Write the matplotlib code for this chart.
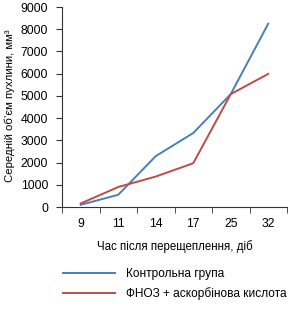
import matplotlib
matplotlib.use("Agg")
import matplotlib.pyplot as plt
import numpy as np

plt.rcParams['font.family'] = ['Liberation Sans', 'DejaVu Sans']

categories = ["9", "11", "14", "17", "25", "32"]
control = [100, 550, 2290, 3330, 5080, 8250]
treated = [160, 900, 1370, 1970, 5080, 5990]
yticks = [0, 1000, 2000, 3000, 4000, 5000, 6000, 7000, 8000, 9000]

W, H = 290, 313
fig = plt.figure(figsize=(W/100, H/100), dpi=100)
ax = fig.add_axes([62/W, 1-207/H, (287-62)/W, (207-7)/H])

x = np.arange(len(categories))
l1, = ax.plot(x, control, color='#4A7EBB', lw=1.4, label='Контрольна група')
l2, = ax.plot(x, treated, color='#BE4B48', lw=1.4, label='ФНОЗ + аскорбінова кислота')

ax.set_xlim(-0.5, len(categories)-0.5)
ax.set_ylim(0, 9000)
ax.set_yticks(yticks)
ax.set_yticklabels([str(v) for v in yticks], fontsize=8.8)
ax.set_xticks(x)
ax.set_xticklabels(categories, fontsize=8.8)
ax.tick_params(axis='x', length=0, pad=8)
ax.set_xticks(np.arange(-0.5, len(categories)), minor=True)
ax.tick_params(axis='x', which='minor', length=4, color='#333333')
ax.tick_params(axis='y', length=4, color='#333333', pad=6)
for s in ['top', 'right']:
    ax.spines[s].set_visible(False)
for s in ['left', 'bottom']:
    ax.spines[s].set_color('#333333')
    ax.spines[s].set_linewidth(0.8)

fig.text(10/W, 1-106/H, 'Середній об’єм пухлини, мм³', fontsize=8.2,
         rotation=90, ha='center', va='center')
ax.set_xlabel('Час після перещеплення, діб', fontsize=8.3, labelpad=7)

fig.legend(handles=[l1, l2], loc='upper left', bbox_to_anchor=(52/W, 1-257/H),
           frameon=False, fontsize=8.6, handlelength=4.4, handletextpad=0.9,
           labelspacing=0.6)

fig.savefig('out.png', dpi=100)
